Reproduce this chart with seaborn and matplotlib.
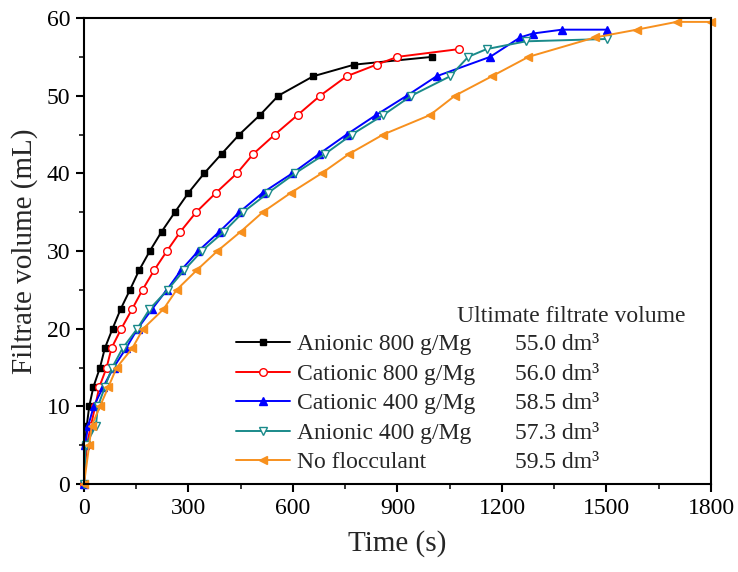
import numpy as np
import pandas as pd
import matplotlib
matplotlib.use('Agg')
import matplotlib.pyplot as plt
import seaborn as sns
from matplotlib.ticker import MultipleLocator

labels = ['Anionic 800 g/Mg', 'Cationic 800 g/Mg', 'Cationic 400 g/Mg',
          'Anionic 400 g/Mg', 'No flocculant']
ultimate = ['55.0', '56.0', '58.5', '57.3', '59.5']

# time (s) needed to reach each filtrate volume (mL)
t_an800 = [0, 3, 8, 15, 27, 46, 60, 82, 105, 132, 158, 189, 223, 261, 300, 345,
           395, 446, 505, 558, 658, 776, 1000]
v_an800 = [0, 5, 7.5, 10, 12.5, 15, 17.5, 20, 22.5, 25, 27.5, 30, 32.5, 35, 37.5,
           40, 42.5, 45, 47.5, 50, 52.5, 54, 55]

t_cat800 = [0, 8, 20, 32, 44, 65, 79, 107, 138, 168, 201, 238, 277, 322, 379, 439,
            486, 548, 613, 678, 754, 840, 900, 1077]
v_cat800 = [0, 5, 7.5, 10, 12.5, 15, 17.5, 20, 22.5, 25, 27.5, 30, 32.5, 35, 37.5,
            40, 42.5, 45, 47.5, 50, 52.5, 54, 55, 56]

t_cat400 = [0, 3, 12, 28, 55, 85, 121, 154, 195, 238, 278, 328, 389, 446, 513, 598,
            675, 754, 838, 927, 1012, 1166, 1252, 1288, 1372, 1501]
v_cat400 = [0, 5, 7.5, 10, 12.5, 15, 17.5, 20, 22.5, 25, 27.5, 30, 32.5, 35, 37.5,
            40, 42.5, 45, 47.5, 50, 52.5, 55, 57.5, 58, 58.5, 58.5]

t_an400 = [0, 5, 34, 40, 60, 81, 111, 153, 188, 240, 287, 338, 402, 457, 529, 606,
           692, 769, 859, 940, 1051, 1103, 1156, 1269, 1501]
v_an400 = [0, 5, 7.5, 10, 12.5, 15, 17.5, 20, 22.5, 25, 27.5, 30, 32.5, 35, 37.5,
           40, 42.5, 45, 47.5, 50, 52.5, 55, 56, 57, 57.3]

t_none = [0, 15, 22, 46, 70, 94, 139, 170, 228, 266, 323, 383, 450, 513, 594, 682,
          761, 859, 993, 1065, 1171, 1276, 1467, 1587, 1701, 1800]
v_none = [0, 5, 7.5, 10, 12.5, 15, 17.5, 20, 22.5, 25, 27.5, 30, 32.5, 35, 37.5,
          40, 42.5, 45, 47.5, 50, 52.5, 55, 57.5, 58.5, 59.5, 59.5]

times = [t_an800, t_cat800, t_cat400, t_an400, t_none]
volumes = [v_an800, v_cat800, v_cat400, v_an400, v_none]

colors = ['#000000', '#ff0000', '#0000ff', '#1a8a8a', '#f7901e']
markers = ['s', 'o', '^', 'v', '<']
msizes = [4.5, 5.5, 6, 6, 6]
open_marker = [False, True, False, True, False]

sns.set_style('ticks')
plt.rcParams['font.family'] = 'Liberation Serif'

fig = plt.figure(figsize=(7.38, 5.72), dpi=100)
ax = fig.add_axes([0.1138, 0.1538, 0.8496, 0.8147])

for i in range(5):
    df = pd.DataFrame({'t': times[i], 'v': volumes[i]})
    sns.lineplot(data=df, x='t', y='v', ax=ax, color=colors[i], marker=markers[i],
                 markersize=msizes[i], markeredgecolor=colors[i],
                 markerfacecolor='white' if open_marker[i] else colors[i],
                 markeredgewidth=1.0, linewidth=1.4, label=labels[i],
                 estimator=None, sort=False, clip_on=False)

ax.set_xlim(0, 1800)
ax.set_ylim(0, 60)
ax.xaxis.set_major_locator(MultipleLocator(300))
ax.xaxis.set_minor_locator(MultipleLocator(150))
ax.yaxis.set_major_locator(MultipleLocator(10))
ax.yaxis.set_minor_locator(MultipleLocator(5))
ax.tick_params(which='major', direction='out', length=6, width=1.5, labelsize=17,
               pad=4, colors='black')
ax.tick_params(which='minor', direction='out', length=3.5, width=1.3)
for s in ax.spines.values():
    s.set_linewidth(1.5)
    s.set_color('black')

ax.set_xlabel('Time (s)', fontsize=21, labelpad=8)
ax.set_ylabel('Filtrate volume (mL)', fontsize=21, labelpad=6)

leg = ax.legend(loc='upper left', bbox_to_anchor=(0.2424, 0.322), frameon=False,
                fontsize=17, borderpad=0, borderaxespad=0, handlelength=2.3,
                handletextpad=0.3, labelspacing=0.335)

ax.text(0.595, 0.3586, 'Ultimate filtrate volume', transform=ax.transAxes,
        fontsize=17, ha='left', va='center')

fig.canvas.draw()
inv = ax.transAxes.inverted()
for txt, val in zip(leg.get_texts(), ultimate):
    bb = txt.get_window_extent()
    yc = inv.transform((0, (bb.y0 + bb.y1) / 2))[1]
    ax.text(0.687, yc, val + ' dm³', transform=ax.transAxes, fontsize=17,
            ha='left', va='center')

fig.savefig('out.png', dpi=100)
